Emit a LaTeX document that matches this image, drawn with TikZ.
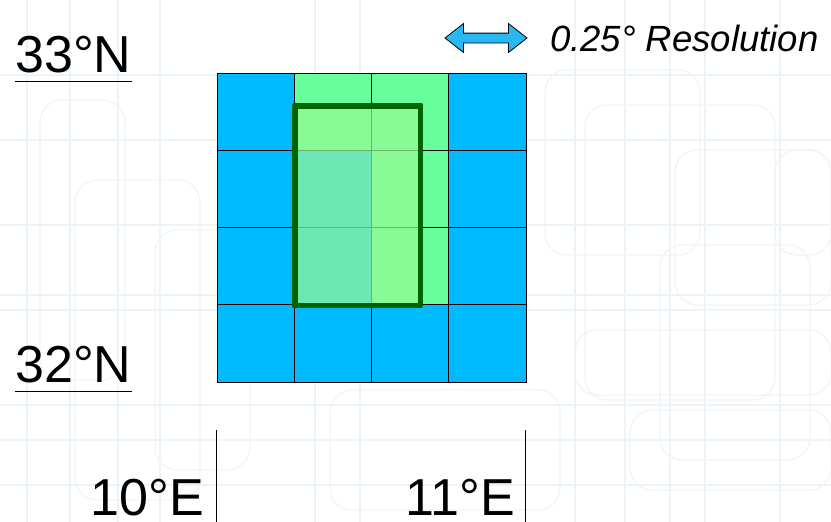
\documentclass[tikz,border=0pt]{standalone}
\usepackage{fontspec}
\setmainfont{Liberation Sans}
\usepackage{xcolor}
\usetikzlibrary{shapes.arrows}
\definecolor{cellblue}{RGB}{0,187,255}
\definecolor{cellgreen}{RGB}{102,255,153}
\definecolor{boxgreen}{RGB}{150,250,150}
\definecolor{edgegreen}{RGB}{0,100,0}
\definecolor{arrowblue}{RGB}{40,185,245}
\definecolor{bgblue}{RGB}{234,244,250}
\definecolor{bggray}{RGB}{242,243,245}

\begin{document}
\begin{tikzpicture}[x=1pt, y=-1pt,
  cell/.style={draw=black, line width=0.8pt, minimum size=77.25pt,
               inner sep=0pt, fill=cellblue},
  selbox/.style={draw=edgegreen, line width=3.5pt, fill=boxgreen,
                 fill opacity=0.72, inner sep=0pt, anchor=north west},
  lbl/.style={font=\fontsize{52}{60}\selectfont, inner sep=0pt},
  latlbl/.style={lbl, inner ysep=9pt, anchor=base west},
  lonlbl/.style={lbl, anchor=base east},
  tick/.style={line width=0.8pt},
  reslbl/.style={font=\fontsize{36.5}{40}\selectfont\itshape, inner sep=0pt,
                 anchor=base west},
  resarrow/.style={double arrow, draw=black, fill=arrowblue, line width=0.8pt,
                   minimum height=82pt, inner sep=4.5pt,
                   double arrow head extend=9.5pt, double arrow tip angle=76},
  bgline/.style={bgblue, line width=2pt},
  bground/.style={bggray, line width=1.2pt, rounded corners=22pt},
]
\useasboundingbox (0,0) rectangle (831,522);

% faint backdrop
\foreach \x in {27,70,118,160,315,360,575,625,670,705,780}
  \draw[bgline] (\x,0) -- (\x,522);
\foreach \y in {75,140,225,295,310,405,440,485}
  \draw[bgline] (0,\y) -- (831,\y);
\draw[bground] (40,100) rectangle (125,380);
\draw[bground] (75,180) rectangle (200,500);
\draw[bground] (155,230) rectangle (250,470);
\draw[bground] (545,70) rectangle (700,255);
\draw[bground] (585,105) rectangle (775,400);
\draw[bground] (675,150) rectangle (831,305);
\draw[bground] (775,150) rectangle (831,255);
\draw[bground] (660,245) rectangle (810,460);
\draw[bground] (575,330) rectangle (831,395);
\draw[bground] (630,410) rectangle (831,490);
\draw[bground] (330,390) rectangle (560,510);

% grid cells
\foreach \r/\c in {1/1,1/4,2/1,2/2,2/4,3/1,3/2,3/4,4/1,4/2,4/3,4/4}
  \node[cell] (c\r\c) at ({217+77.25*(\c-0.5)},{73+77.25*(\r-0.5)}) {};
\foreach \r/\c in {1/2,1/3,2/3,3/3}
  \node[cell, fill=cellgreen] (c\r\c) at ({217+77.25*(\c-0.5)},{73+77.25*(\r-0.5)}) {};

% selected region
\node[selbox, minimum width=124pt, minimum height=198pt] (sel) at (294,105) {};
\draw[edgegreen, line width=3.5pt, line join=round] (sel.north west) rectangle (sel.south east);

% latitude labels
\node[latlbl] (n33) at (15,72) {33°N};
\node[latlbl] (n32) at (15,382) {32°N};
\draw[tick] (n33.south west) -- (n33.south east);
\draw[tick] (n32.south west) -- (n32.south east);

% longitude labels
\node[lonlbl] (e10) at (204,515) {10°E};
\node[lonlbl] (e11) at (515,515) {11°E};
\coordinate (t10a) at (216.5,430);
\coordinate (t10b) at (216.5,522);
\coordinate (t11a) at (525.5,430);
\coordinate (t11b) at (525.5,522);
\draw[tick] (t10a) -- (t10b);
\draw[tick] (t11a) -- (t11b);

% resolution key
\node[resarrow] (res) at (486,38) {};
\node[reslbl] (restxt) at (550,51) {0.25° Resolution};
\end{tikzpicture}
\end{document}
